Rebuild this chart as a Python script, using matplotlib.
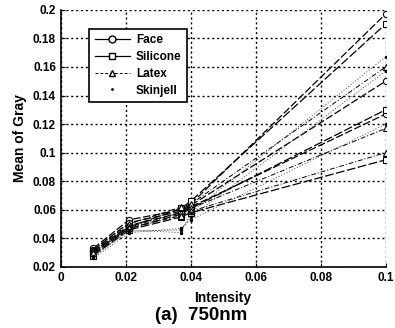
import matplotlib
matplotlib.use("Agg")
import matplotlib.pyplot as plt
from matplotlib.lines import Line2D

plt.rcParams['font.family'] = ['Liberation Sans', 'DejaVu Sans']

intensity = [0.010, 0.021, 0.037, 0.040, 0.100]

face = [
    [0.033, 0.053, 0.060, 0.064, 0.197],
    [0.032, 0.051, 0.059, 0.063, 0.150],
    [0.031, 0.049, 0.058, 0.062, 0.127],
]
silicone = [
    [0.030, 0.048, 0.061, 0.066, 0.190],
    [0.029, 0.047, 0.057, 0.061, 0.130],
    [0.028, 0.046, 0.055, 0.058, 0.095],
]
latex = [
    [0.032, 0.050, 0.062, 0.064, 0.160],
    [0.031, 0.048, 0.058, 0.061, 0.117],
    [0.030, 0.047, 0.056, 0.059, 0.100],
]
skinjell = [
    [0.027, 0.046, 0.044, 0.058, 0.167],
    [0.028, 0.045, 0.046, 0.055, 0.157],
    [0.026, 0.044, 0.047, 0.053, 0.120],
]

xticks = [0, 0.02, 0.04, 0.06, 0.08, 0.1]
xticklabels = ["0", "0.02", "0.04", "0.06", "0.08", "0.1"]
yticks = [0.02, 0.04, 0.06, 0.08, 0.1, 0.12, 0.14, 0.16, 0.18, 0.2]
yticklabels = ["0.02", "0.04", "0.06", "0.08", "0.1", "0.12", "0.14", "0.16", "0.18", "0.2"]

fig = plt.figure(figsize=(3.95, 3.28), dpi=100)
ax = fig.add_axes([0.154, 0.186, 0.822, 0.784])

for s in face:
    ax.plot(intensity, s, color='black', lw=0.9, dashes=(6, 2), marker='o',
            ms=4.5, mfc='white', mec='black', mew=0.8)
for s in silicone:
    ax.plot(intensity, s, color='black', lw=0.9, dashes=(7, 2), marker='s',
            ms=4, mfc='white', mec='black', mew=0.8)
for s in latex:
    ax.plot(intensity, s, color='black', lw=0.7, dashes=(5, 2, 1, 2), marker='^',
            ms=4.5, mfc='white', mec='black', mew=0.8)
for s in skinjell:
    ax.plot(intensity, s, color='#444444', lw=0.7, dashes=(1, 2), marker='.',
            ms=3, mfc='black', mec='black')

ax.set_xlim(0, 0.1)
ax.set_ylim(0.02, 0.2)
ax.set_xticks(xticks)
ax.set_xticklabels(xticklabels, fontweight='bold')
ax.set_yticks(yticks)
ax.set_yticklabels(yticklabels, fontweight='bold')
ax.tick_params(direction='in', length=3, labelsize=8.5, width=0.8)
ax.grid(True, color='black', linestyle=(0, (1.5, 2)), linewidth=1.0)
for side in ['top', 'right']:
    ax.spines[side].set_visible(False)
for side in ['left', 'bottom']:
    ax.spines[side].set_linewidth(1.2)

ax.set_ylabel("Mean of Gray", fontsize=10, fontweight='bold', labelpad=4)
ax.set_xlabel("Intensity", fontsize=10, fontweight='bold', labelpad=5)
fig.text(0.509, 0.012, "(a)  750nm", fontsize=13.5, fontweight='bold', ha='center', va='bottom')

handles = [
    Line2D([], [], color='black', lw=0.9, marker='o', ms=5, mfc='white', mec='black'),
    Line2D([], [], color='black', lw=0.9, marker='s', ms=5, mfc='white', mec='black'),
    Line2D([], [], color='black', lw=0.7, dashes=(3, 2), marker='^', ms=5, mfc='white', mec='black'),
    Line2D([], [], color='black', lw=0.0, marker='.', ms=2, mfc='black', mec='black'),
]
leg = ax.legend(handles, ["Face", "Silicone", "Latex", "Skinjell"],
                loc='upper left', bbox_to_anchor=(0.07, 0.948),
                prop={'size': 8.5, 'weight': 'bold'},
                frameon=True, fancybox=False, framealpha=1, edgecolor='black',
                handlelength=3.0, borderpad=0.45, labelspacing=0.4, handletextpad=0.5)
leg.get_frame().set_linewidth(1.2)

fig.savefig("out.png", dpi=100)
